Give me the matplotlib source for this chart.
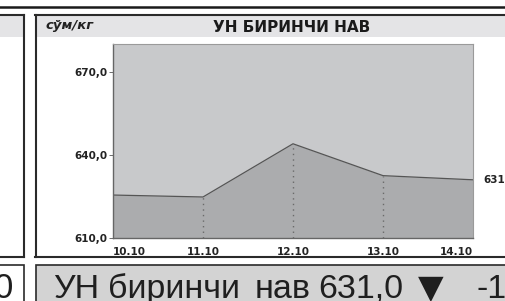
import matplotlib
matplotlib.use("Agg")
import matplotlib.pyplot as plt
from matplotlib.patches import Rectangle
from matplotlib.lines import Line2D

# data
dates = ["10.10", "11.10", "12.10", "13.10", "14.10"]
prices = [625.5, 624.8, 644.0, 632.5, 631.0]
y_ticks = [610, 640, 670]
y_tick_labels = ["610,0", "640,0", "670,0"]
title = "УН БИРИНЧИ НАВ"
unit = "сўм/кг"
last_label = "631,0"
ticker_words = ["УН", "биринчи", "нав", "631,0", "▼", "-1"]
ticker_x = [53, 108, 255, 318, 418, 476]

W, H = 505, 301
fig = plt.figure(figsize=(W / 100, H / 100), dpi=100)


def fx(x):
    return x / W


def fy(y):
    return 1 - y / H


def rect(x0, y0, x1, y1, **kw):
    fig.patches.append(Rectangle((fx(x0), fy(y1)), fx(x1) - fx(x0), fy(y0) - fy(y1),
                                 transform=fig.transFigure, figure=fig, **kw))


def hline(x0, x1, y, **kw):
    fig.lines.append(Line2D([fx(x0), fx(x1)], [fy(y), fy(y)], transform=fig.transFigure, **kw))


def vline(x, y0, y1, **kw):
    fig.lines.append(Line2D([fx(x), fx(x)], [fy(y0), fy(y1)], transform=fig.transFigure, **kw))


# page rule at top
hline(0, W, 6.5, color="#1a1a1a", lw=1.8)

# left (cut off) panel
rect(-2, 16, 23, 37, facecolor="#e4e4e6", edgecolor="none")
hline(0, 24, 15, color="#2a2a2a", lw=1.5)
vline(23.5, 15, 257, color="#2a2a2a", lw=1.5)
hline(0, 24, 257, color="#2a2a2a", lw=1.5)

# main panel
rect(36, 16, W + 2, 37, facecolor="#e4e4e6", edgecolor="none")
hline(35, W, 15, color="#2a2a2a", lw=1.5)
vline(35.5, 15, 257, color="#2a2a2a", lw=1.5)
hline(35, W, 257, color="#2a2a2a", lw=1.5)

fig.text(fx(46), fy(26), unit, fontsize=9.5, fontweight="bold", fontstyle="italic",
         color="#222222", va="center", ha="left")
fig.text(fx(292), fy(27.5), title, fontsize=11, fontweight="bold",
         color="#1a1a1a", va="center", ha="center")

# chart area
ax = fig.add_axes([fx(113), fy(238), fx(473) - fx(113), fy(44) - fy(238)])
x = list(range(len(dates)))
ax.set_facecolor("#c8c9cb")
ax.fill_between(x, 610, prices, color="#abacae", lw=0)
ax.plot(x, prices, color="#555555", lw=0.9)
for i in range(1, len(dates) - 1):
    ax.plot([i, i], [610, prices[i]], color="#6a6a6a", lw=1.0, ls=(0, (1, 3)))
ax.set_xlim(0, len(dates) - 1)
ax.set_ylim(610, 680)
ax.set_yticks(y_ticks)
ax.set_yticklabels(y_tick_labels, fontsize=7.5, fontweight="bold", color="#222222")
ax.set_xticks([])
ax.tick_params(axis="y", length=3, width=0.6, color="#555555", pad=1)
for s in ["top", "right"]:
    ax.spines[s].set_color("#9a9a9a")
    ax.spines[s].set_linewidth(0.8)
ax.spines["left"].set_color("#666666")
ax.spines["bottom"].set_color("#666666")
ax.spines["left"].set_linewidth(1.0)
ax.spines["bottom"].set_linewidth(1.0)

for i, d in enumerate(dates):
    ha = "center"
    if i == 0:
        ha = "left"
    elif i == len(dates) - 1:
        ha = "right"
    ax.text(i, 605, d, fontsize=7.5, fontweight="bold", color="#222222",
            ha=ha, va="center", clip_on=False)

ax.text(len(dates) - 1 + 0.11, prices[-1], last_label, fontsize=7.5, fontweight="bold",
        color="#222222", ha="left", va="center", clip_on=False)

# ticker boxes at the bottom
tick_font = ["Liberation Sans", "DejaVu Sans"]
rect(-5, 265, 23.5, 310, facecolor="white", edgecolor="#2a2a2a", lw=1.2)
fig.text(fx(13), fy(298), "0", fontsize=25, color="#1f1f1f",
         ha="right", va="baseline", family=tick_font)
rect(35.5, 265, W + 5, 310, facecolor="#d3d3d3", edgecolor="#2a2a2a", lw=1.2)
for w, xx in zip(ticker_words, ticker_x):
    fam = ["DejaVu Sans"] if w == "▼" else tick_font
    fs = 24 if w == "▼" else 24.5
    fig.text(fx(xx), fy(298), w, fontsize=fs, color="#1f1f1f",
             ha="left", va="baseline", family=fam)

fig.savefig("out.png", dpi=100)
